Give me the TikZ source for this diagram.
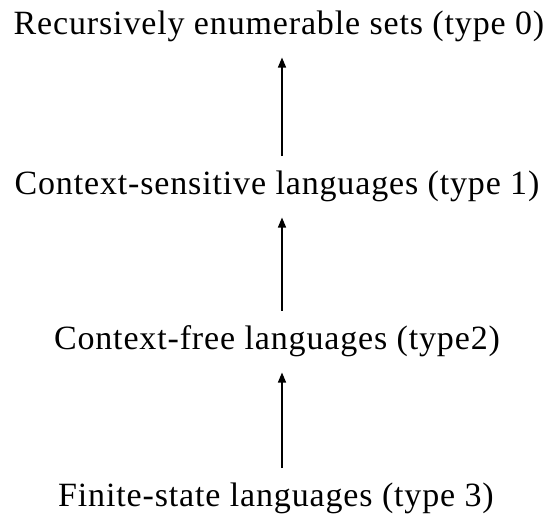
\documentclass[tikz,border=0pt]{standalone}
\usepackage{fontspec}
\setmainfont{Liberation Serif}[LetterSpace=2.5]
\usetikzlibrary{arrows.meta,positioning}

\tikzset{
  langclass/.style={inner sep=0pt, anchor=base, font=\fontsize{34}{40}\selectfont},
  incl/.style={line width=1.5pt, -{Triangle[length=10pt,width=8pt]}, shorten <=15pt, shorten >=15pt}
}

\begin{document}
\begin{tikzpicture}[x=1pt,y=-1pt]
        \useasboundingbox (0,0) rectangle (550,518);

        \node[langclass] (re)  at (279,35)  {Recursively enumerable sets (type 0)};
        \node[langclass] (cs)  at (277,195) {Context-sensitive languages (type 1)};
        \node[langclass] (cf)  at (277,350) {Context-free languages (type2)};
        \node[langclass] (fsl) at (276,507) {Finite-state languages (type 3)};

        \draw[incl] ([xshift=5pt]cs.north) to ([xshift=3pt]re.south);
        \draw[incl] ([xshift=5pt]cf.north) to ([xshift=5pt]cs.south);
        \draw[incl] ([xshift=6pt]fsl.north) to ([xshift=5pt]cf.south);
    \end{tikzpicture}
\end{document}
